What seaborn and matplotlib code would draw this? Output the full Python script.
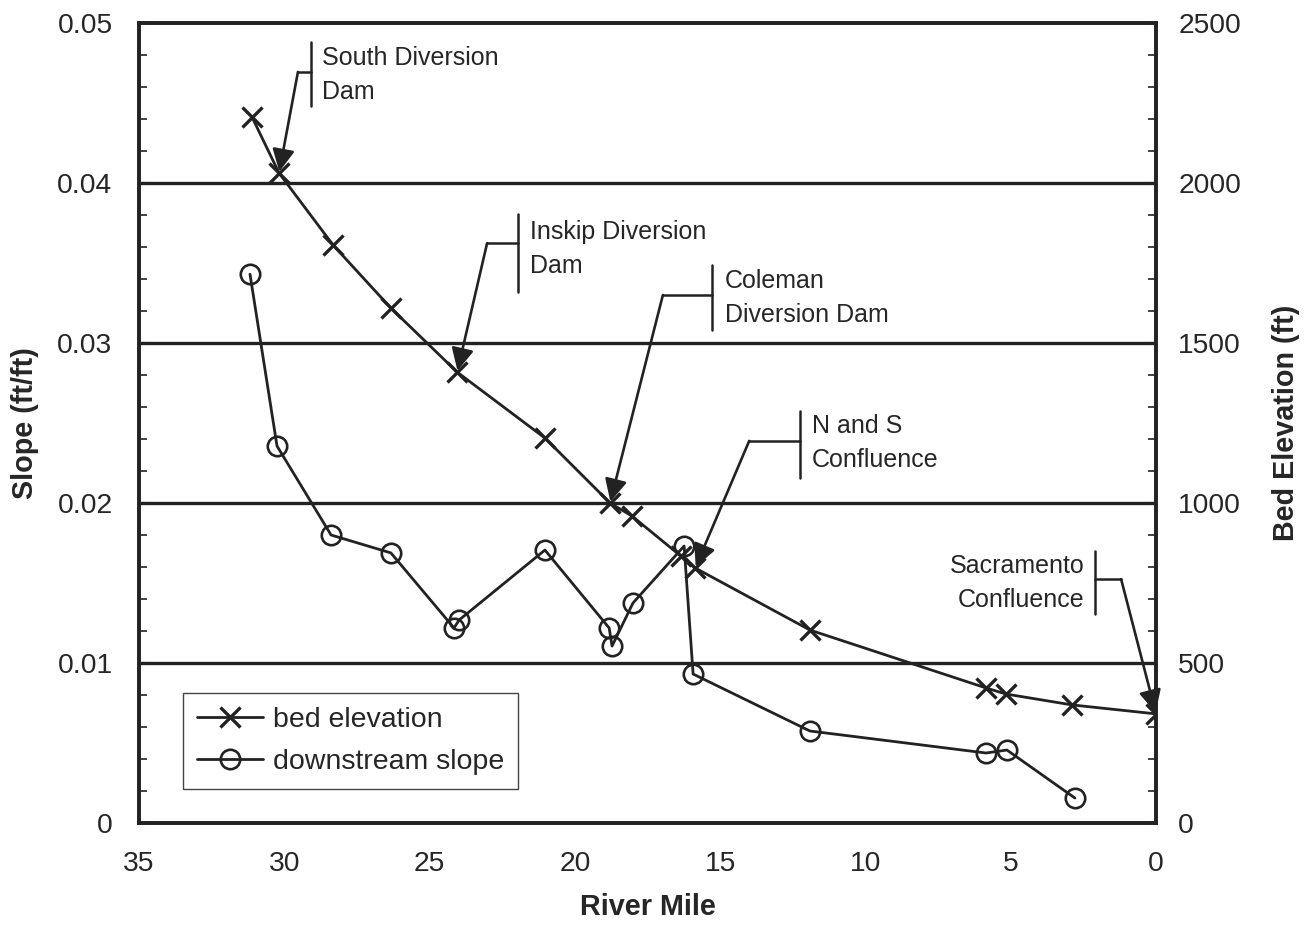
import matplotlib
matplotlib.use("Agg")
import matplotlib.pyplot as plt
import seaborn as sns
import pandas as pd
from matplotlib.lines import Line2D
from matplotlib.ticker import MultipleLocator

# bed elevation (right axis, ft)
bed_mile = [31.11, 30.18, 28.32, 26.33, 24.05, 21.03, 18.79, 18.03, 16.35, 15.86, 11.91, 5.85, 5.16, 2.89, 0.0]
bed_elev = [2206, 2031, 1806, 1609, 1409, 1203, 1000, 959, 834, 797, 603, 422, 403, 369, 341]

# downstream slope (left axis, ft/ft)
slope_mile = [31.18, 30.25, 28.39, 26.33, 24.16, 23.98, 21.03, 18.82, 18.72, 18.0, 16.24, 15.93, 11.91, 5.85, 5.13, 2.79]
slope_val = [0.0343, 0.02356, 0.0180, 0.01688, 0.01219, 0.01269, 0.01706, 0.01219, 0.01106, 0.01375,
             0.01731, 0.00931, 0.00575, 0.004375, 0.00456, 0.00156]

# annotations: label, target index in bed arrays
ann_labels = ["South Diversion\nDam", "Inskip Diversion\nDam", "Coleman\nDiversion Dam",
              "N and S\nConfluence", "Sacramento\nConfluence"]
ann_target = [1, 4, 6, 9, 14]

sns.set_style("white")
plt.rcParams["font.family"] = ["Liberation Sans", "DejaVu Sans"]

bed = pd.DataFrame({"mile": bed_mile, "elev": bed_elev})
slope = pd.DataFrame({"mile": slope_mile, "slope": slope_val})

fig = plt.figure(figsize=(13.14, 9.27), dpi=100)
ax = fig.add_axes([139 / 1314, 1 - 823 / 927, (1156 - 139) / 1314, (823 - 23) / 927])
ax2 = ax.twinx()

# horizontal grid lines
for g in [0.01, 0.02, 0.03, 0.04]:
    ax.axhline(g, color="#222222", lw=2.4, zorder=1)

sns.lineplot(data=slope, x="mile", y="slope", ax=ax, color="#222222", lw=2.0,
             marker="o", markersize=14, markerfacecolor="none", markeredgecolor="#222222",
             markeredgewidth=1.9, sort=False, legend=False, zorder=3)
sns.lineplot(data=bed, x="mile", y="elev", ax=ax2, color="#222222", lw=2.0,
             marker="x", markersize=15, markeredgecolor="#222222", markeredgewidth=2.4,
             sort=False, legend=False, zorder=3)

ax.set_xlim(35, 0)
ax.set_ylim(0, 0.05)
ax2.set_ylim(0, 2500)

ax.xaxis.set_major_locator(MultipleLocator(5))
ax.xaxis.set_minor_locator(MultipleLocator(1))
ax.yaxis.set_major_locator(MultipleLocator(0.01))
ax.yaxis.set_minor_locator(MultipleLocator(0.002))
ax2.yaxis.set_major_locator(MultipleLocator(500))
ax2.yaxis.set_minor_locator(MultipleLocator(100))
ax.yaxis.set_major_formatter(plt.FuncFormatter(lambda v, p: "0" if v == 0 else f"{v:.2f}"))

ax.tick_params(axis="both", which="major", direction="in", length=9, width=1.5,
               labelsize=20.3, color="#222222")
ax.tick_params(axis="both", which="minor", direction="in", length=6, width=1.2, color="#222222")
ax.tick_params(axis="x", which="major", pad=20)
ax.tick_params(axis="y", which="major", pad=19)
ax2.tick_params(axis="y", which="major", direction="in", length=9, width=1.5,
                labelsize=20.3, pad=16, color="#222222")
ax2.tick_params(axis="y", which="minor", direction="in", length=6, width=1.2, color="#222222")

for a in (ax, ax2):
    for s in a.spines.values():
        s.set_linewidth(2.6)
        s.set_color("#222222")

ax.set_xlabel("River Mile", fontsize=20.7, fontweight="bold", labelpad=12)
ax.set_ylabel("Slope (ft/ft)", fontsize=20.7, fontweight="bold", labelpad=13)
ax2.set_ylabel("Bed Elevation (ft)", fontsize=20.7, fontweight="bold", labelpad=22)

# annotation brackets and arrows (bar_x, bar_y0, bar_y1, elbow_x, elbow_y, text_x, text_y, ha)
ann_pos = [
    (29.08, 2241, 2441, 29.53, 2347, 28.70, 2337, "left"),
    (21.96, 1659, 1903, 23.02, 1812, 21.55, 1794, "left"),
    (15.28, 1541, 1744, 16.97, 1650, 14.85, 1641, "left"),
    (12.25, 1078, 1288, 14.00, 1194, 11.85, 1188, "left"),
    (2.10, 653, 850, 1.20, 762, 2.45, 750, "right"),
]
for lab, ti, (bx, by0, by1, ex, ey, tx, ty, ha) in zip(ann_labels, ann_target, ann_pos):
    ax2.plot([bx, bx], [by0, by1], color="#222222", lw=1.8, zorder=4)
    ax2.plot([bx, ex], [ey, ey], color="#222222", lw=1.8, zorder=4)
    ax2.annotate("", xy=(bed_mile[ti], bed_elev[ti]), xytext=(ex, ey),
                 arrowprops=dict(arrowstyle="-|>", color="#222222", lw=1.9,
                                 mutation_scale=34, shrinkA=0, shrinkB=1), zorder=4)
    ax2.text(tx, ty, lab, fontsize=18, ha=ha, va="center", linespacing=1.55, zorder=4)

handles = [
    Line2D([], [], color="#222222", lw=2.0, marker="x", markersize=15, markeredgewidth=2.4),
    Line2D([], [], color="#222222", lw=2.0, marker="o", markersize=14, markerfacecolor="none",
           markeredgewidth=1.9),
]
leg = ax2.legend(handles, ["bed elevation", "downstream slope"], loc="lower left",
                 bbox_to_anchor=(0.0433, 0.0425), borderaxespad=0, fontsize=20.5, frameon=True,
                 fancybox=False, edgecolor="#444444", framealpha=1, handlelength=2.3,
                 borderpad=0.5, labelspacing=0.55, handletextpad=0.35)
leg.get_frame().set_linewidth(1.0)

fig.savefig("out.png", dpi=100)
